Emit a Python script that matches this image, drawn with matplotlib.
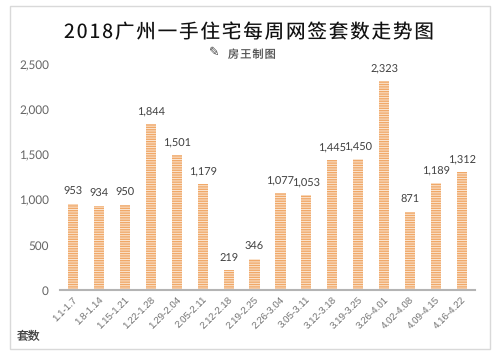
import matplotlib
matplotlib.use('Agg')
import matplotlib.pyplot as plt
from matplotlib.patches import Rectangle

weeks = ['1.1-1.7', '1.8-1.14', '1.15-1.21', '1.22-1.28', '1.29-2.04', '2.05-2.11',
         '2.12-2.18', '2.19-2.25', '2.26-3.04', '3.05-3.11', '3.12-3.18', '3.19-3.25',
         '3.26-4.01', '4.02-4.08', '4.09-4.15', '4.16-4.22']
sales = [953, 934, 950, 1844, 1501, 1179, 219, 346, 1077, 1053, 1445, 1450, 2323, 871, 1189, 1312]
y_ticks = [0, 500, 1000, 1500, 2000, 2500]

W, H = 496, 355
CJK = ['Noto Sans CJK SC', 'DejaVu Sans']
plt.rcParams['font.family'] = ['Lato', 'Noto Sans CJK SC', 'DejaVu Sans']
plt.rcParams['hatch.linewidth'] = 1.0
plt.rcParams['text.hinting'] = 'no_hinting'

fig = plt.figure(figsize=(W / 100, H / 100), dpi=100, facecolor='white')
ax = fig.add_axes([60 / W, (H - 290) / H, 415 / W, 225 / H])

ax.bar(range(len(weeks)), sales, width=0.39, facecolor='#fbe6d2',
       edgecolor='#f0a868', hatch='-------', linewidth=0)
for i, v in enumerate(sales):
    ax.annotate(f'{v:,}', (i, v), xytext=(0, 5), textcoords='offset points',
                ha='center', va='bottom', fontsize=7.9, color='#404040')

ax.set_xlim(-0.5, len(weeks) - 0.5)
ax.set_ylim(0, 2500)
ax.set_yticks(y_ticks)
ax.set_yticklabels([f'{t:,}' for t in y_ticks])
ax.set_xticks(range(len(weeks)))
ax.set_xticklabels(weeks, rotation=45, ha='right', va='top', rotation_mode='anchor',
                   family='Liberation Sans')
ax.tick_params(axis='y', length=0, pad=8, labelsize=8.5, labelcolor='#666666')
ax.tick_params(axis='x', length=0, pad=4, labelsize=7, labelcolor='#707070')
for side in ['top', 'right', 'left']:
    ax.spines[side].set_visible(False)
ax.spines['bottom'].set_color('#b4b4b4')
ax.spines['bottom'].set_linewidth(1.5)

# outer chart frame
fig.add_artist(Rectangle((10 / W, (H - 349) / H), 480 / W, 343 / H, transform=fig.transFigure,
                         fill=False, edgecolor='#d9d9d9', linewidth=1))

title = '2018广州一手住宅每周网签套数走势图'
fig.text(249 / W, (H - 33) / H, '\u200a'.join(title), family=CJK, fontsize=14,
         color='#111111', ha='center', va='center')
fig.text(228 / W, (H - 55) / H, '\u200a'.join('房王制图'), family=CJK, fontsize=8,
         color='#555555', va='center')
fig.text(219 / W, (H - 52) / H, '✎', family='DejaVu Sans', fontsize=9, color='#444444',
         ha='right', va='center')
fig.text(17 / W, (H - 336) / H, '套数', family=CJK, fontsize=8.5, color='#444444', va='center')

fig.savefig('out.png', dpi=100, facecolor='white')
